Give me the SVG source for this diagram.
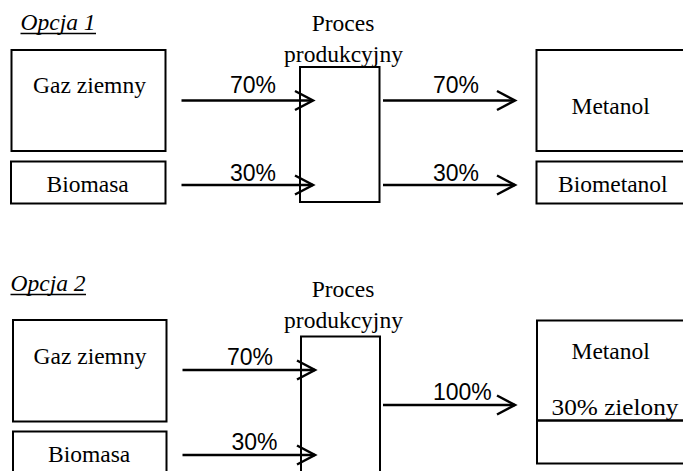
<svg xmlns="http://www.w3.org/2000/svg" width="683" height="471" viewBox="0 0 683 471">
<defs>
<style>
.box{fill:#fff;stroke:#000;stroke-width:2}
.t{font-family:"Liberation Serif","Times New Roman",serif;font-size:23.5px;fill:#000}
.ti{font-family:"Liberation Serif","Times New Roman",serif;font-size:23.5px;font-style:italic;fill:#000}
.p{font-family:"Liberation Sans",Arial,sans-serif;font-size:23px;fill:#000}
.arr{stroke:#000;stroke-width:2.5;fill:none;marker-end:url(#chev)}
.ul{stroke:#000;stroke-width:1.5}
</style>
<marker id="chev" markerUnits="userSpaceOnUse" markerWidth="24" markerHeight="24" refX="19" refY="10" orient="auto" overflow="visible">
<path d="M1,0.5 L19,10 L1,19.5" fill="none" stroke="#000" stroke-width="2.5"/>
</marker>
</defs>
<rect width="683" height="471" fill="#fff"/>

<g id="opcja1">
<text class="ti" x="20.5" y="29.5">Opcja 1</text>
<line class="ul" x1="20.5" y1="33.5" x2="96" y2="33.5"/>
</g>
<g id="proces1">
<text class="t" x="343" y="30.5" text-anchor="middle">Proces</text>
<text class="t" x="343.5" y="61.5" text-anchor="middle">produkcyjny</text>
<rect class="box" x="300" y="67" width="79.5" height="135"/>
</g>
<g id="gaz1">
<rect class="box" x="11.5" y="50" width="154" height="101"/>
<text class="t" x="33" y="92.5">Gaz ziemny</text>
</g>
<g id="biomasa1">
<rect class="box" x="11" y="161.5" width="154.5" height="42"/>
<text class="t" x="46.5" y="191.5">Biomasa</text>
</g>
<g id="metanol1">
<rect class="box" x="536.5" y="50" width="160" height="101"/>
<text class="t" x="571.5" y="113.5">Metanol</text>
</g>
<g id="biometanol1">
<rect class="box" x="536.5" y="161.5" width="160" height="42"/>
<text class="t" x="558" y="191.5">Biometanol</text>
</g>

<g id="opcja2">
<text class="ti" x="10.5" y="290.5">Opcja 2</text>
<line class="ul" x1="10.5" y1="294.5" x2="86" y2="294.5"/>
</g>
<g id="proces2">
<text class="t" x="343" y="296.5" text-anchor="middle">Proces</text>
<text class="t" x="343.5" y="328" text-anchor="middle">produkcyjny</text>
<rect class="box" x="301" y="336.5" width="79" height="145"/>
</g>
<g id="gaz2">
<rect class="box" x="13" y="320" width="153.5" height="101.5"/>
<text class="t" x="33.5" y="363.5">Gaz ziemny</text>
</g>
<g id="biomasa2">
<rect class="box" x="13" y="431.5" width="153.5" height="50"/>
<text class="t" x="48" y="461.5">Biomasa</text>
</g>
<g id="metanol2">
<rect class="box" x="537" y="320.5" width="160" height="143"/>
<line x1="537" y1="420.5" x2="697" y2="420.5" stroke="#000" stroke-width="2.5"/>
<text class="t" x="571.5" y="358.5">Metanol</text>
<text class="t" x="551.5" y="415" textLength="127" lengthAdjust="spacingAndGlyphs">30% zielony</text>
</g>

<g id="connectors">
<line class="arr" x1="181.5" y1="100.5" x2="313" y2="100.5"/>
<line class="arr" x1="181.5" y1="185" x2="313" y2="185"/>
<line class="arr" x1="383" y1="100.5" x2="515" y2="100.5"/>
<line class="arr" x1="383" y1="185" x2="515" y2="185"/>
<line class="arr" x1="182.5" y1="370" x2="315" y2="370"/>
<line class="arr" x1="182.5" y1="455" x2="315" y2="455"/>
<line class="arr" x1="383" y1="405" x2="515" y2="405"/>
<text class="p" x="230" y="93">70%</text>
<text class="p" x="433" y="93">70%</text>
<text class="p" x="230" y="180.5">30%</text>
<text class="p" x="433" y="180.5">30%</text>
<text class="p" x="227" y="365">70%</text>
<text class="p" x="231.5" y="450">30%</text>
<text class="p" x="433" y="399.5">100%</text>
</g>
</svg>
